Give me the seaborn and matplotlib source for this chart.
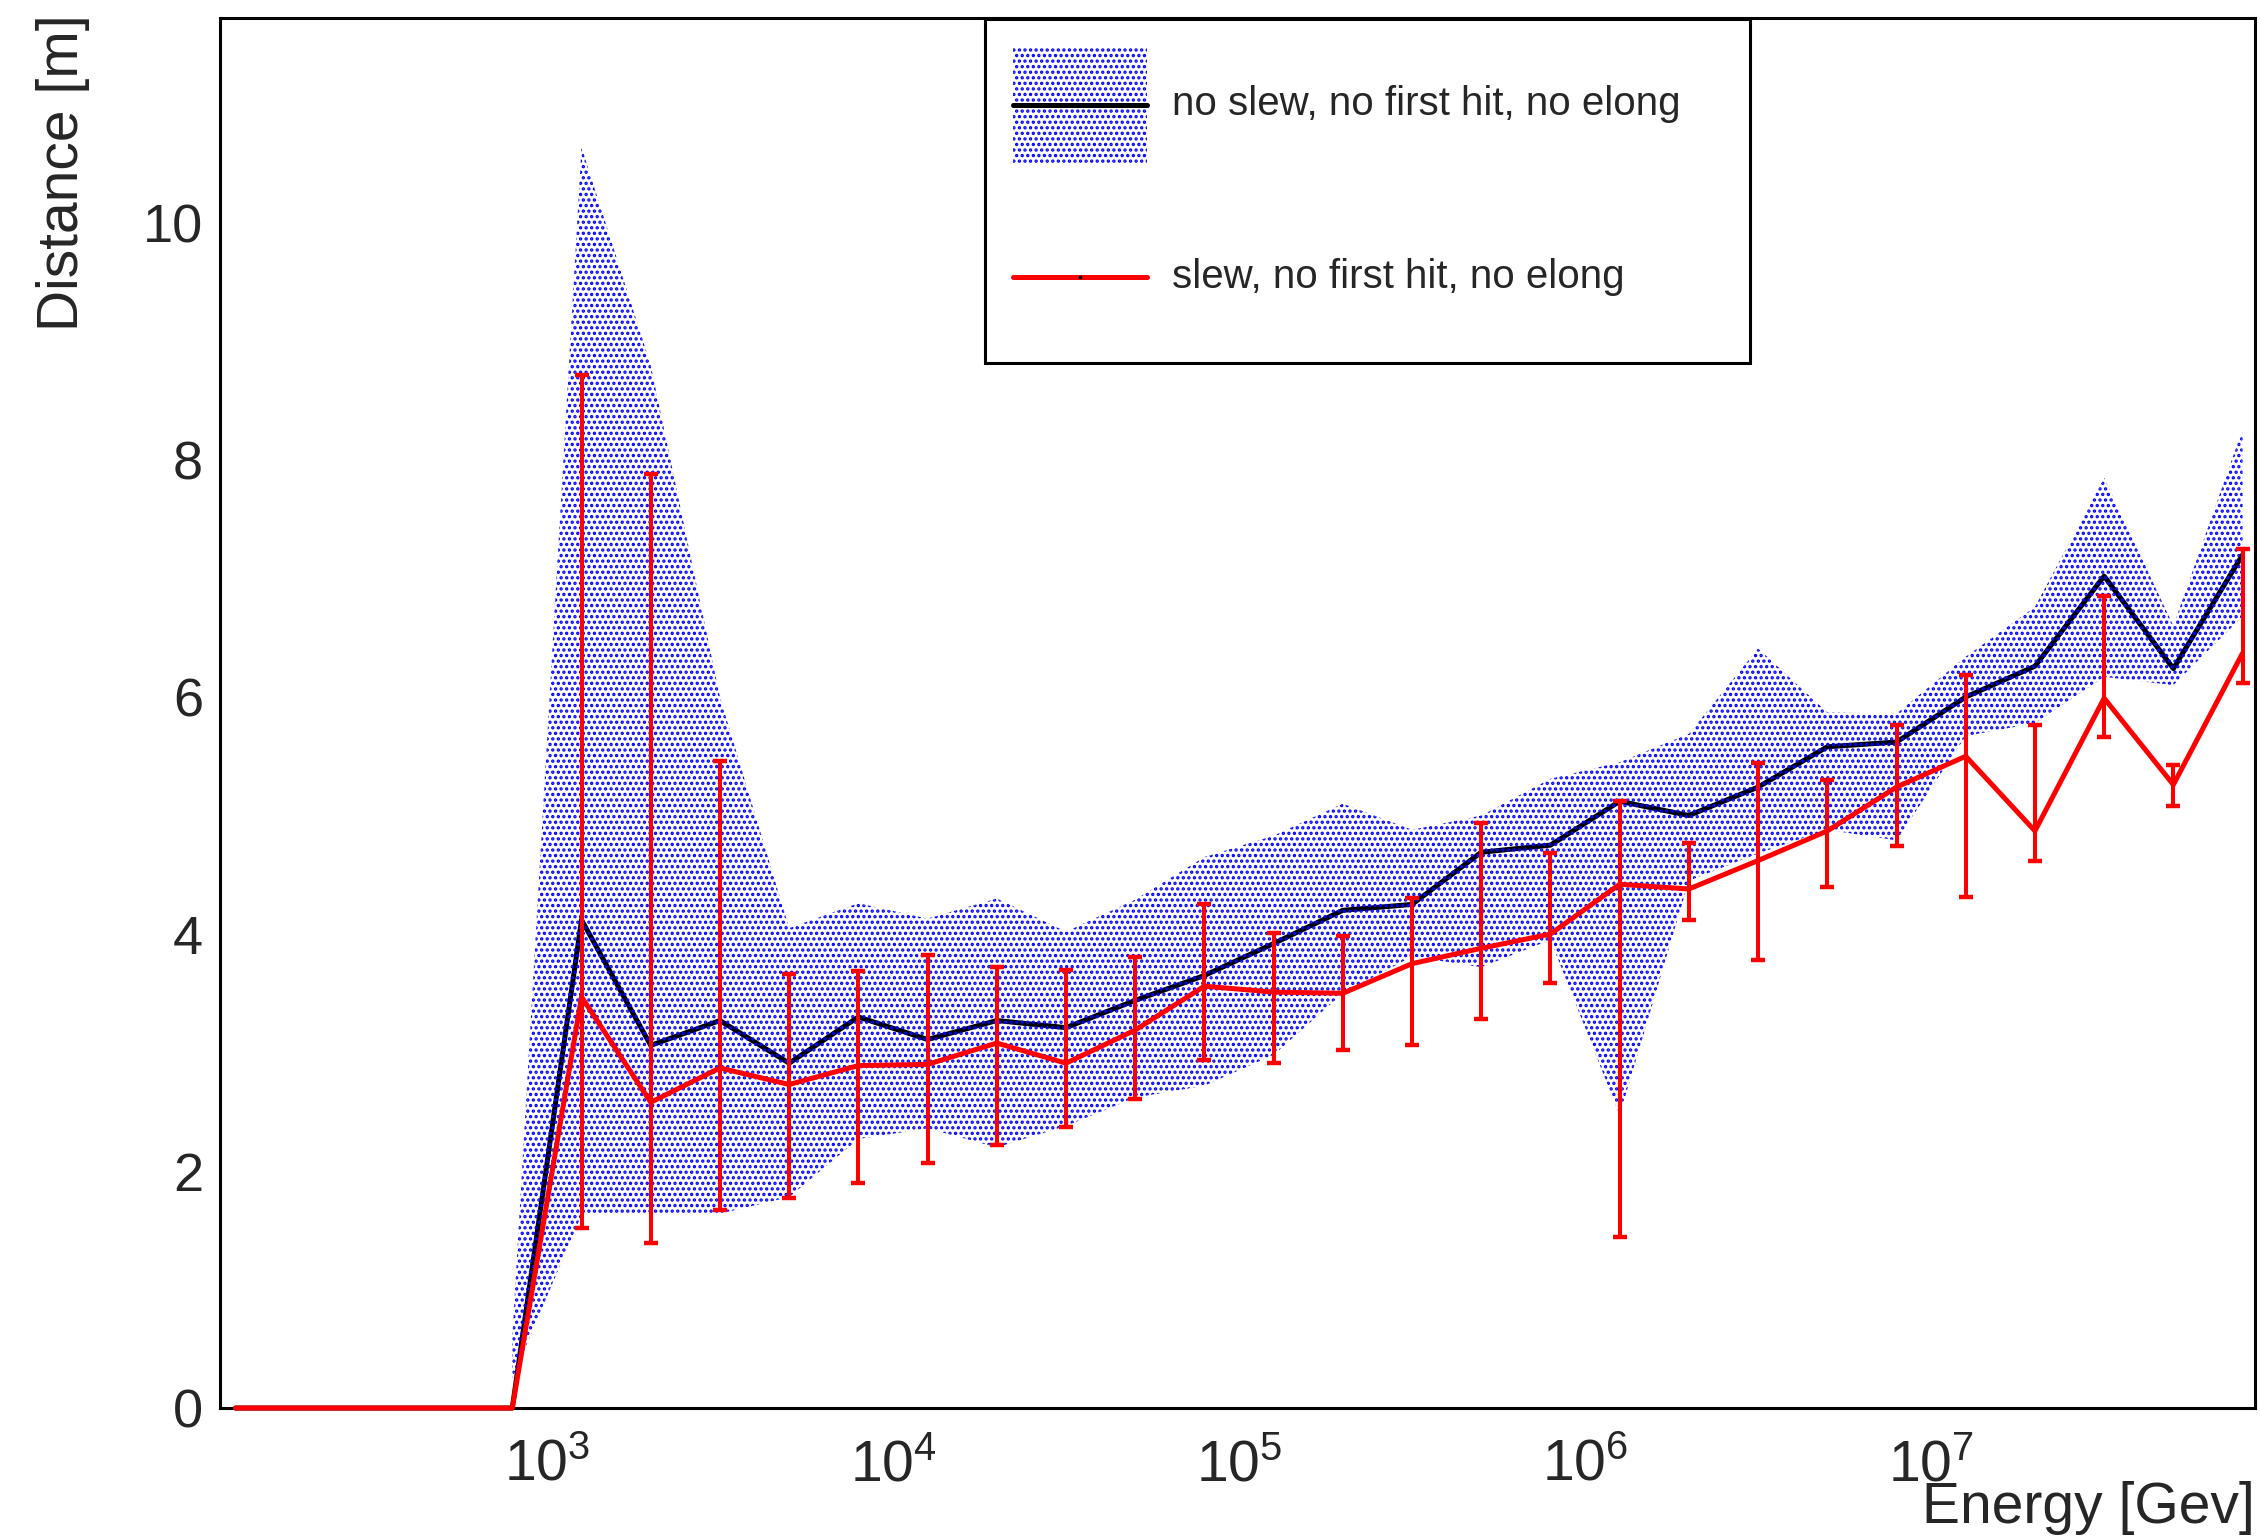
import numpy as np
import matplotlib
matplotlib.use("Agg")
import matplotlib.pyplot as plt
import seaborn as sns
from matplotlib.patches import Patch
from matplotlib.lines import Line2D
from matplotlib.legend_handler import HandlerLine2D
from matplotlib.ticker import MultipleLocator

# bin centres, log10(E / GeV)
log_energy = [2.1, 2.3, 2.5, 2.7, 2.9, 3.1, 3.3, 3.5, 3.7, 3.9,
              4.1, 4.3, 4.5, 4.7, 4.9, 5.1, 5.3, 5.5, 5.7, 5.9,
              6.1, 6.3, 6.5, 6.7, 6.9, 7.1, 7.3, 7.5, 7.7, 7.9]

# no slew, no first hit, no elong (black line + dotted band)
no_slew = [0, 0, 0, 0, 0, 4.12, 3.06, 3.27, 2.91, 3.30,
           3.11, 3.27, 3.21, 3.44, 3.65, 3.92, 4.20, 4.25, 4.69, 4.75,
           5.12, 5.00, 5.24, 5.58, 5.62, 6.00, 6.26, 7.02, 6.24, 7.20]
band_low = [np.nan] * 4 + [0.25, 1.63, 1.63, 1.64, 1.78, 2.27,
                           2.36, 2.20, 2.38, 2.62, 2.72, 2.98, 3.50, 3.81, 3.72, 3.95,
                           2.47, 4.45, 4.68, 4.88, 4.79, 5.67, 5.78, 6.17, 6.10, 6.68]
band_high = [np.nan] * 4 + [0.60, 10.64, 8.80, 6.00, 4.05, 4.26,
                            4.13, 4.30, 4.02, 4.29, 4.65, 4.83, 5.10, 4.88, 5.00, 5.31,
                            5.45, 5.69, 6.41, 5.87, 5.86, 6.34, 6.76, 7.85, 6.60, 8.26]

# slew, no first hit, no elong (red line + asymmetric error bars)
slew = [0, 0, 0, 0, 0, 3.47, 2.58, 2.87, 2.73, 2.89,
        2.90, 3.08, 2.91, 3.19, 3.56, 3.51, 3.50, 3.75, 3.88, 4.00,
        4.42, 4.38, 4.62, 4.87, 5.24, 5.50, 4.87, 5.99, 5.26, 6.37]
slew_low = [np.nan] * 5 + [1.52, 1.39, 1.67, 1.77, 1.90,
                           2.07, 2.22, 2.37, 2.61, 2.94, 2.91, 3.02, 3.06, 3.28, 3.59,
                           1.44, 4.12, 3.78, 4.40, 4.74, 4.31, 4.62, 5.66, 5.08, 6.12]
slew_high = [np.nan] * 5 + [8.72, 7.88, 5.46, 3.66, 3.69,
                            3.82, 3.72, 3.70, 3.81, 4.25, 4.01, 3.98, 4.30, 4.94, 4.68,
                            5.12, 4.77, 5.44, 5.30, 5.76, 6.19, 5.76, 6.85, 5.43, 7.25]

energy = 10 ** np.array(log_energy)


# legend lines drawn through the middle of the handle box (like ROOT)
class CenteredLine(HandlerLine2D):
    def create_artists(self, legend, orig_handle, xdescent, ydescent,
                       width, height, fontsize, trans):
        artists = super().create_artists(legend, orig_handle, xdescent, ydescent,
                                         width, height, fontsize, trans)
        for a in artists:
            a.set_ydata(np.full(len(a.get_xdata()), height / 2 - ydescent))
        return artists


sns.set_style("white")
plt.rcParams['font.family'] = ['Liberation Sans', 'DejaVu Sans']
plt.rcParams['mathtext.fontset'] = 'custom'
plt.rcParams['mathtext.rm'] = 'Liberation Sans'
plt.rcParams['mathtext.default'] = 'regular'
plt.rcParams['hatch.color'] = 'blue'
plt.rcParams['hatch.linewidth'] = 1.6

fig = plt.figure(figsize=(22.6, 15.38), dpi=100)
ax = fig.add_axes([0.0973, 0.0845, 0.9005, 0.9038])

sns.lineplot(x=energy, y=no_slew, color='black', linewidth=3.6, ax=ax,
             legend=False, zorder=2, clip_on=False)
ax.fill_between(energy, band_low, band_high, facecolor='none', edgecolor='blue',
                hatch='...', linewidth=0, zorder=3)
sns.lineplot(x=energy, y=slew, color='red', linewidth=3.6, ax=ax,
             legend=False, zorder=5, clip_on=False)

slew_arr = np.array(slew)
err_lo = slew_arr - np.array(slew_low)
err_hi = np.array(slew_high) - slew_arr
ok = ~np.isnan(err_lo)
ax.errorbar(energy[ok], slew_arr[ok], yerr=[err_lo[ok], err_hi[ok]], fmt='none',
            ecolor='red', elinewidth=2.9, capsize=5, capthick=3.2, zorder=5)

ax.set_xscale('log')
ax.set_xlim(10 ** 2.055, 10 ** 7.936)
ax.set_ylim(0, 11.73)
ax.yaxis.set_major_locator(MultipleLocator(2))
ax.yaxis.set_minor_locator(MultipleLocator(0.5))

for side in ['top', 'right', 'bottom', 'left']:
    ax.spines[side].set_linewidth(2.2)
    ax.spines[side].set_color('black')

ax.tick_params(axis='both', which='both', direction='in', width=2.0,
               top=False, right=False)
ax.tick_params(axis='y', which='major', length=42, pad=12, labelsize=39)
ax.tick_params(axis='y', which='minor', length=20)
ax.tick_params(axis='x', which='major', length=29, pad=22, labelsize=41)
ax.tick_params(axis='x', which='minor', length=14)

ax.set_xlabel('Energy [Gev]', fontsize=41, loc='right')
ax.xaxis.set_label_coords(1.0, -0.0525)
ax.set_ylabel('Distance [m]', fontsize=41, loc='top')
ax.yaxis.set_label_coords(-0.064, 1.003)

band_handle = Patch(facecolor='none', edgecolor='blue', hatch='...', linewidth=0)
black_handle = Line2D([], [], color='black', linewidth=3.6)
red_handle = Line2D([], [], color='red', linewidth=3.6, marker='s',
                    markersize=2, markerfacecolor='black', markeredgecolor='black')
leg = ax.legend([(band_handle, black_handle), red_handle],
                ['no slew, no first hit, no elong', 'slew, no first hit, no elong'],
                handler_map={Line2D: CenteredLine()},
                loc='upper left', bbox_to_anchor=(0.376, 0.749, 0.376, 0.2503),
                mode='expand', borderaxespad=0, fontsize=29, handleheight=4.05,
                handlelength=3.33, handletextpad=0.62, borderpad=0.69,
                labelspacing=1.41, fancybox=False, framealpha=1, edgecolor='black')
leg.get_frame().set_linewidth(2.2)

plt.savefig('out.png', dpi=100)
